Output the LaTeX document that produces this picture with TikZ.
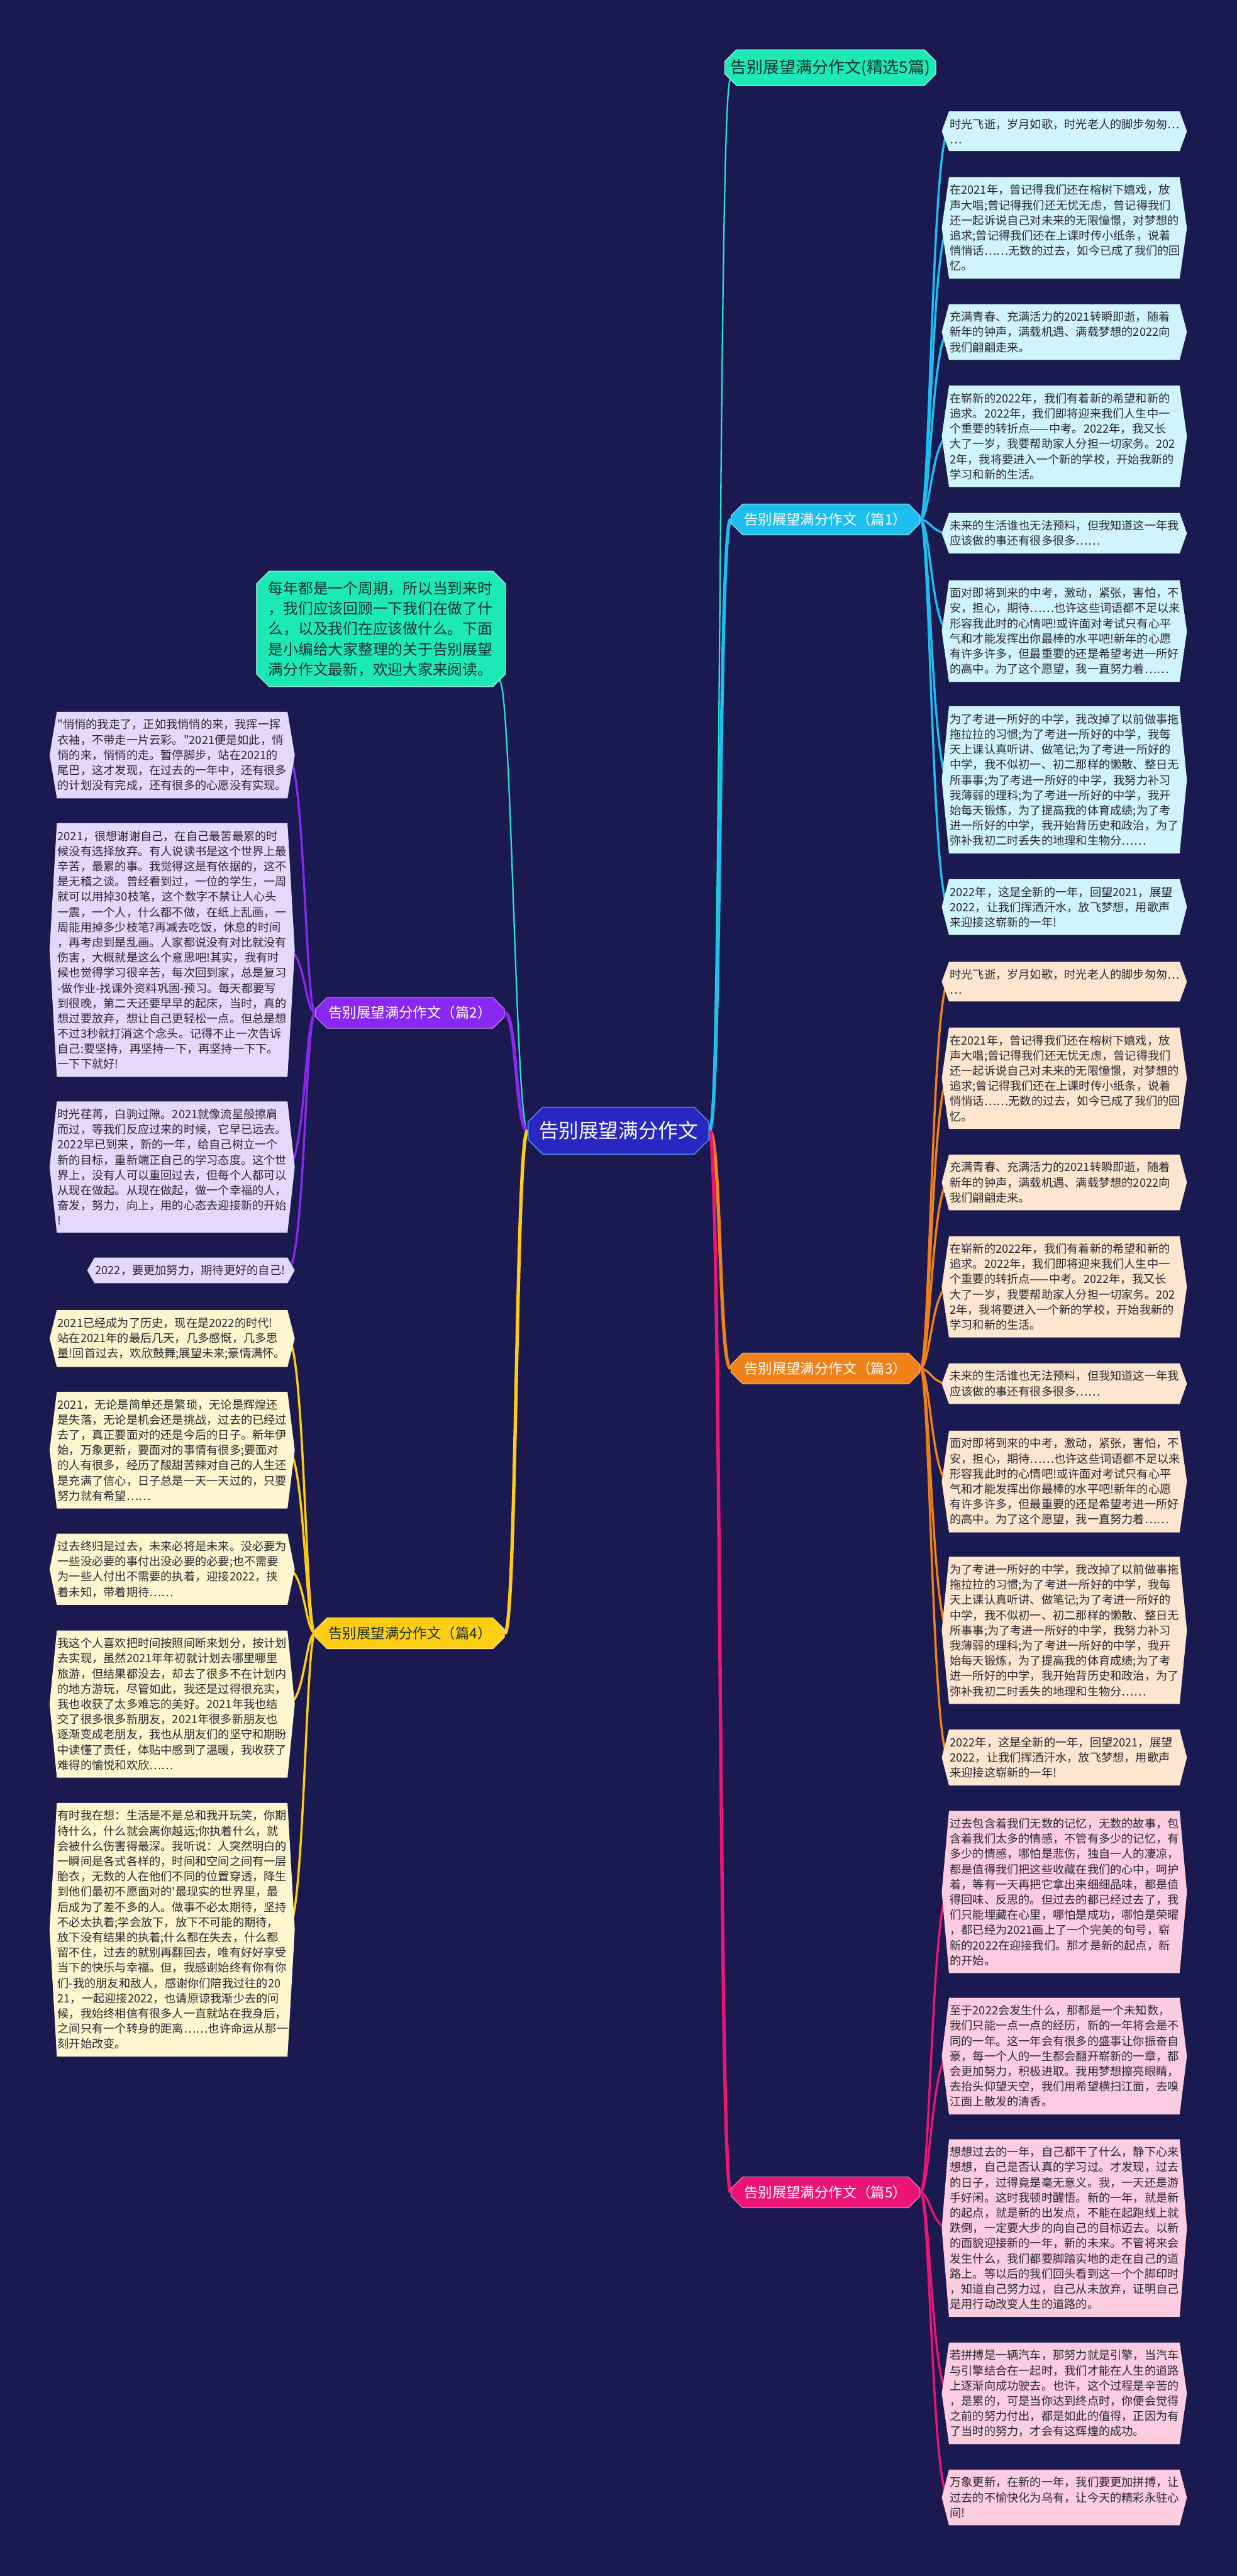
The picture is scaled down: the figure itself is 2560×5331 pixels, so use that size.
\documentclass[tikz,border=0pt]{standalone}
\usepackage{fontspec}
\setmainfont{Noto Sans CJK SC}[Ligatures=TeXOff]
\usepackage{xcolor}
\usepackage{tikz}
\usetikzlibrary{calc, shapes.misc}
\pgfdeclarelayer{bg}
\pgfsetlayers{bg,main}

\definecolor{navy}{RGB}{27,26,80}
\definecolor{rootblue}{RGB}{40,40,192}
\definecolor{rootedge}{RGB}{74,140,232}
\definecolor{mint}{RGB}{29,233,182}
\definecolor{mintline}{RGB}{40,225,200}
\definecolor{darktext}{RGB}{22,48,42}
\definecolor{leaftext}{RGB}{40,40,48}
\definecolor{skyline}{RGB}{30,190,240}
\definecolor{skyfill}{RGB}{208,244,252}
\definecolor{violetline}{RGB}{136,40,240}
\definecolor{violetfill}{RGB}{228,216,252}
\definecolor{orangeline}{RGB}{240,128,24}
\definecolor{orangefill}{RGB}{253,230,208}
\definecolor{goldline}{RGB}{255,206,20}
\definecolor{goldfill}{RGB}{253,246,206}
\definecolor{pinkline}{RGB}{236,20,116}
\definecolor{pinkfill}{RGB}{252,204,224}

% texts used twice (篇1 and 篇3)
\newcommand\essayA{时光飞逝，岁月如歌，时光老人的脚步匆匆…\\…}
\newcommand\essayB{在2021年，曾记得我们还在榕树下嬉戏，放\\声大唱;曾记得我们还无忧无虑，曾记得我们\\还一起诉说自己对未来的无限憧憬，对梦想的\\追求;曾记得我们还在上课时传小纸条，说着\\悄悄话……无数的过去，如今已成了我们的回\\忆。}
\newcommand\essayC{充满青春、充满活力的2021转瞬即逝，随着\\新年的钟声，满载机遇、满载梦想的2022向\\我们翩翩走来。}
\newcommand\essayD{在崭新的2022年，我们有着新的希望和新的\\追求。2022年，我们即将迎来我们人生中一\\个重要的转折点——中考。2022年，我又长\\大了一岁，我要帮助家人分担一切家务。202\\2年，我将要进入一个新的学校，开始我新的\\学习和新的生活。}
\newcommand\essayE{未来的生活谁也无法预料，但我知道这一年我\\应该做的事还有很多很多……}
\newcommand\essayF{面对即将到来的中考，激动，紧张，害怕，不\\安，担心，期待……也许这些词语都不足以来\\形容我此时的心情吧!或许面对考试只有心平\\气和才能发挥出你最棒的水平吧!新年的心愿\\有许多许多，但最重要的还是希望考进一所好\\的高中。为了这个愿望，我一直努力着……}
\newcommand\essayG{为了考进一所好的中学，我改掉了以前做事拖\\拖拉拉的习惯;为了考进一所好的中学，我每\\天上课认真听讲、做笔记;为了考进一所好的\\中学，我不似初一、初二那样的懒散、整日无\\所事事;为了考进一所好的中学，我努力补习\\我薄弱的理科;为了考进一所好的中学，我开\\始每天锻炼，为了提高我的体育成绩;为了考\\进一所好的中学，我开始背历史和政治，为了\\弥补我初二时丢失的地理和生物分……}
\newcommand\essayH{2022年，这是全新的一年，回望2021，展望\\2022，让我们挥洒汗水，放飞梦想，用歌声\\来迎接这崭新的一年!}

\begin{document}
\begin{tikzpicture}[x=0.1mm, y=-0.1mm,
    leaf/.style={anchor=west, text width=47.4mm, align=left, inner xsep=0.1mm,
        inner ysep=1.45mm, text=leaftext, font={\fontsize{6.75}{8.96}\selectfont}},
    lleaf/.style={leaf, anchor=east},
    branch/.style={chamfered rectangle, chamfered rectangle xsep=1.2mm,
        chamfered rectangle ysep=1.2mm, minimum width=39.1mm, minimum height=6.4mm,
        inner sep=0pt, line width=0.4pt, font={\fontsize{8.3}{10}\selectfont}},
    conn/.style={line width=0.7mm},
    twig/.style={line width=0.45mm}]
    \useasboundingbox (0,0) rectangle (2560,5331);
    \begin{pgfonlayer}{bg}
        \fill[navy] (0,0) rectangle (2560,5331);
    \end{pgfonlayer}

    % 1. Root, title and introduction
    \node[chamfered rectangle, chamfered rectangle xsep=1.5mm, chamfered rectangle ysep=1.5mm,
        minimum width=37.4mm, minimum height=9.7mm, inner sep=0pt, fill=rootblue,
        draw=rootedge, line width=0.6pt, text=white, font={\fontsize{11.7}{14}\selectfont}]
        (root) at (1280,2340) {告别展望满分作文};
    \node[chamfered rectangle, chamfered rectangle xsep=1.2mm, chamfered rectangle ysep=1.2mm,
        minimum width=41.3mm, minimum height=7.4mm, inner sep=0pt, fill=mint,
        draw=white!70!mint, line width=0.4pt, text=darktext, font={\fontsize{9.6}{12}\selectfont}]
        (title) at (1718.5,140) {告别展望满分作文(精选5篇)};
    \node[chamfered rectangle, chamfered rectangle xsep=1.3mm, chamfered rectangle ysep=1.3mm,
        minimum width=51.5mm, minimum height=23.9mm, inner sep=0pt, fill=mint,
        draw=white!70!mint, line width=0.4pt, text=darktext, text width=46.6mm, align=left,
        font={\fontsize{8.8}{11.95}\selectfont}]
        (intro) at (788.5,1301.5) {每年都是一个周期，所以当到来时\\，我们应该回顾一下我们在做了什\\么，以及我们在应该做什么。下面\\是小编给大家整理的关于告别展望\\满分作文最新，欢迎大家来阅读。};

    % 2. Branches
    \node[branch, fill=skyline, draw=white!60!skyline, text=white] (b1) at (1708.5,1075) {告别展望满分作文（篇1）};
    \node[branch, fill=violetline, draw=white!50!violetline, text=white] (b2) at (848.5,2096) {告别展望满分作文（篇2）};
    \node[branch, fill=orangeline, draw=white!50!orangeline, text=white] (b3) at (1708.5,2832) {告别展望满分作文（篇3）};
    \node[branch, fill=goldline, draw=white!50!goldline, text=darktext] (b4) at (848.5,3380) {告别展望满分作文（篇4）};
    \node[branch, fill=pinkline, draw=white!50!pinkline, text=white] (b5) at (1708.5,4537) {告别展望满分作文（篇5）};

    % 3. Leaves of 篇1
    \node[leaf] (r11) at (1964,271.5) {\essayA};
    \node[leaf] (r12) at (1964,471.5) {\essayB};
    \node[leaf] (r13) at (1964,687) {\essayC};
    \node[leaf] (r14) at (1964,903) {\essayD};
    \node[leaf] (r15) at (1964,1103.5) {\essayE};
    \node[leaf] (r16) at (1964,1306) {\essayF};
    \node[leaf] (r17) at (1964,1614) {\essayG};
    \node[leaf] (r18) at (1964,1877) {\essayH};

    % 4. Leaves of 篇3
    \node[leaf] (r31) at (1964,2031.5) {\essayA};
    \node[leaf] (r32) at (1964,2231.5) {\essayB};
    \node[leaf] (r33) at (1964,2447) {\essayC};
    \node[leaf] (r34) at (1964,2663) {\essayD};
    \node[leaf] (r35) at (1964,2863.5) {\essayE};
    \node[leaf] (r36) at (1964,3066) {\essayF};
    \node[leaf] (r37) at (1964,3374) {\essayG};
    \node[leaf] (r38) at (1964,3637) {\essayH};

    % 5. Leaves of 篇5
    \node[leaf] (r51) at (1964,3915.5) {过去包含着我们无数的记忆，无数的故事，包\\含着我们太多的情感，不管有多少的记忆，有\\多少的情感，哪怕是悲伤，独自一人的凄凉，\\都是值得我们把这些收藏在我们的心中，呵护\\着，等有一天再把它拿出来细细品味，都是值\\得回味、反思的。但过去的都已经过去了，我\\们只能埋藏在心里，哪怕是成功，哪怕是荣曜\\，都已经为2021画上了一个完美的句号，崭\\新的2022在迎接我们。那才是新的起点，新\\的开始。};
    \node[leaf] (r52) at (1964,4255) {至于2022会发生什么，那都是一个未知数，\\我们只能一点一点的经历，新的一年将会是不\\同的一年。这一年会有很多的盛事让你振奋自\\豪，每一个人的一生都会翻开崭新的一章，都\\会更加努力，积极进取。我用梦想擦亮眼睛，\\去抬头仰望天空，我们用希望横扫江面，去嗅\\江面上散发的清香。};
    \node[leaf] (r53) at (1964,4611) {想想过去的一年，自己都干了什么，静下心来\\想想，自己是否认真的学习过。才发现，过去\\的日子，过得竟是毫无意义。我，一天还是游\\手好闲。这时我顿时醒悟。新的一年，就是新\\的起点，就是新的出发点，不能在起跑线上就\\跌倒，一定要大步的向自己的目标迈去。以新\\的面貌迎接新的一年，新的未来。不管将来会\\发生什么，我们都要脚踏实地的走在自己的道\\路上。等以后的我们回头看到这一个个脚印时\\，知道自己努力过，自己从未放弃，证明自己\\是用行动改变人生的道路的。};
    \node[leaf] (r54) at (1964,4953) {若拼搏是一辆汽车，那努力就是引擎，当汽车\\与引擎结合在一起时，我们才能在人生的道路\\上逐渐向成功驶去。也许，这个过程是辛苦的\\，是累的，可是当你达到终点时，你便会觉得\\之前的努力付出，都是如此的值得，正因为有\\了当时的努力，才会有这辉煌的成功。};
    \node[leaf] (r55) at (1964,5168.5) {万象更新，在新的一年，我们要更加拼搏，让\\过去的不愉快化为乌有，让今天的精彩永驻心\\间!};

    % 6. Leaves of 篇2
    \node[lleaf] (l21) at (595,1562.5) {"悄悄的我走了，正如我悄悄的来，我挥一挥\\衣袖，不带走一片云彩。"2021便是如此，悄\\悄的来，悄悄的走。暂停脚步，站在2021的\\尾巴，这才发现，在过去的一年中，还有很多\\的计划没有完成，还有很多的心愿没有实现。};
    \node[lleaf] (l22) at (595,1966) {2021，很想谢谢自己，在自己最苦最累的时\\候没有选择放弃。有人说读书是这个世界上最\\辛苦，最累的事。我觉得这是有依据的，这不\\是无稽之谈。曾经看到过，一位的学生，一周\\就可以用掉30枝笔，这个数字不禁让人心头\\一震，一个人，什么都不做，在纸上乱画，一\\周能用掉多少枝笔?再减去吃饭，休息的时间\\，再考虑到是乱画。人家都说没有对比就没有\\伤害，大概就是这么个意思吧!其实，我有时\\候也觉得学习很辛苦，每次回到家，总是复习\\-做作业-找课外资料巩固-预习。每天都要写\\到很晚，第二天还要早早的起床，当时，真的\\想过要放弃，想让自己更轻松一点。但总是想\\不过3秒就打消这个念头。记得不止一次告诉\\自己:要坚持，再坚持一下，再坚持一下下。\\一下下就好!};
    \node[lleaf] (l23) at (595,2415) {时光荏苒，白驹过隙。2021就像流星般擦肩\\而过，等我们反应过来的时候，它早已远去。\\2022早已到来，新的一年，给自己树立一个\\新的目标，重新端正自己的学习态度。这个世\\界上，没有人可以重回过去，但每个人都可以\\从现在做起。从现在做起，做一个幸福的人，\\奋发，努力，向上，用的心态去迎接新的开始\\!};
    \node[lleaf, text width=39.6mm] (l24) at (595,2629) {2022，要更加努力，期待更好的自己!};

    % 7. Leaves of 篇4
    \node[lleaf] (l41) at (595,2770) {2021已经成为了历史，现在是2022的时代!\\站在2021年的最后几天，几多感慨，几多思\\量!回首过去，欢欣鼓舞;展望未来;豪情满怀。};
    \node[lleaf] (l42) at (595,3001) {2021，无论是简单还是繁琐，无论是辉煌还\\是失落，无论是机会还是挑战，过去的已经过\\去了，真正要面对的还是今后的日子。新年伊\\始，万象更新，要面对的事情有很多;要面对\\的人有很多，经历了酸甜苦辣对自己的人生还\\是充满了信心，日子总是一天一天过的，只要\\努力就有希望……};
    \node[lleaf] (l43) at (595,3247.5) {过去终归是过去，未来必将是未来。没必要为\\一些没必要的事付出没必要的必要;也不需要\\为一些人付出不需要的执着，迎接2022，挟\\着未知，带着期待……};
    \node[lleaf] (l44) at (595,3526.5) {我这个人喜欢把时间按照间断来划分，按计划\\去实现，虽然2021年年初就计划去哪里哪里\\旅游，但结果都没去，却去了很多不在计划内\\的地方游玩，尽管如此，我还是过得很充实，\\我也收获了太多难忘的美好。2021年我也结\\交了很多很多新朋友，2021年很多新朋友也\\逐渐变成老朋友，我也从朋友们的坚守和期盼\\中读懂了责任，体贴中感到了温暖，我收获了\\难得的愉悦和欢欣……};
    \node[lleaf] (l45) at (595,3993.5) {有时我在想：生活是不是总和我开玩笑，你期\\待什么，什么就会离你越远;你执着什么，就\\会被什么伤害得最深。我听说：人突然明白的\\一瞬间是各式各样的，时间和空间之间有一层\\胎衣，无数的人在他们不同的位置穿透，降生\\到他们最初不愿面对的'最现实的世界里，最\\后成为了差不多的人。做事不必太期待，坚持\\不必太执着;学会放下，放下不可能的期待，\\放下没有结果的执着;什么都在失去，什么都\\留不住，过去的就别再翻回去，唯有好好享受\\当下的快乐与幸福。但，我感谢始终有你有你\\们-我的朋友和敌人，感谢你们陪我过往的20\\21，一起迎接2022，也请原谅我渐少去的问\\候，我始终相信有很多人一直就站在我身后，\\之间只有一个转身的距离……也许命运从那一\\刻开始改变。};

    \begin{pgfonlayer}{bg}
        % 8. Connectors from the root
        \draw[line width=0.3mm, mintline] (root.east) .. controls +(25,0) and +(-25,0) .. (title.south west);
        \draw[line width=0.3mm, mintline] (root.west) .. controls +(-25,0) and +(25,0) .. (intro.south east);
        \draw[conn, skyline] (root.east) .. controls +(25,0) and +(-25,0) .. (b1.west);
        \draw[conn, orangeline] (root.east) .. controls +(25,0) and +(-25,0) .. (b3.west);
        \draw[conn, pinkline] (root.east) .. controls +(25,0) and +(-25,0) .. (b5.west);
        \draw[conn, violetline] (root.west) .. controls +(-25,0) and +(25,0) .. (b2.east);
        \draw[conn, goldline] (root.west) .. controls +(-25,0) and +(25,0) .. (b4.east);

        % 9. Connectors to the leaves
        \foreach \n in {r11,r12,r13,r14,r15,r16,r17,r18}
            \draw[twig, skyline] (b1.east) .. controls +(20,0) and +(-35,0) .. (\n.west);
        \foreach \n in {r31,r32,r33,r34,r35,r36,r37,r38}
            \draw[twig, orangeline] (b3.east) .. controls +(20,0) and +(-35,0) .. (\n.west);
        \foreach \n in {r51,r52,r53,r54,r55}
            \draw[twig, pinkline] (b5.east) .. controls +(20,0) and +(-35,0) .. (\n.west);
        \foreach \n in {l21,l22,l23,l24}
            \draw[twig, violetline] (b2.west) .. controls +(-20,0) and +(35,0) .. (\n.east);
        \foreach \n in {l41,l42,l43,l44,l45}
            \draw[twig, goldline] (b4.west) .. controls +(-20,0) and +(35,0) .. (\n.east);

        % 10. Leaf boxes (pointed at both ends)
        \foreach \n/\c in {r11/skyfill,r12/skyfill,r13/skyfill,r14/skyfill,r15/skyfill,r16/skyfill,r17/skyfill,r18/skyfill,
                r31/orangefill,r32/orangefill,r33/orangefill,r34/orangefill,r35/orangefill,r36/orangefill,r37/orangefill,r38/orangefill,
                r51/pinkfill,r52/pinkfill,r53/pinkfill,r54/pinkfill,r55/pinkfill,
                l21/violetfill,l22/violetfill,l23/violetfill,l24/violetfill,
                l41/goldfill,l42/goldfill,l43/goldfill,l44/goldfill,l45/goldfill}
            \fill[\c] (\n.north west) -- (\n.north east) -- ($(\n.east)+(15,0)$) -- (\n.south east)
                -- (\n.south west) -- ($(\n.west)+(-15,0)$) -- cycle;
    \end{pgfonlayer}
\end{tikzpicture}
\end{document}
